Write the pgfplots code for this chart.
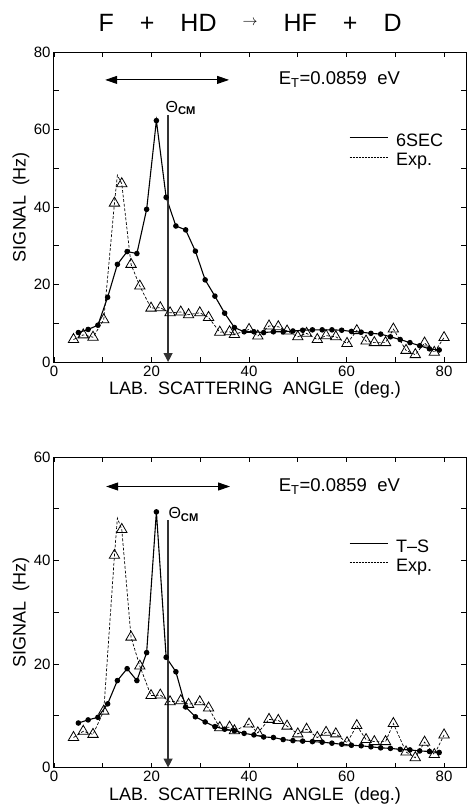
\documentclass[border=0pt]{standalone}
\usepackage{fontspec}
\setmainfont{Liberation Sans}
\usepackage{graphicx}
\usepackage{pgfplots}
\pgfplotsset{compat=1.18}
\usepackage{pgfplotstable}
\usetikzlibrary{arrows.meta}

% 6SEC calculation (top panel)
\pgfplotstableread{
x y
5 7.6
7 8.4
9 9.5
11 16.7
13 25.2
15 28.5
17 28.0
19 39.4
21 62.3
23 42.5
25 35.1
27 34.1
29 28.6
31 21.2
33 17.0
35 12.6
37 8.9
39 7.8
41 7.8
43 7.6
45 7.8
47 7.8
49 8.0
51 8.2
53 8.3
55 8.3
57 8.3
59 8.2
61 7.9
63 7.7
65 7.4
67 7.2
69 6.5
71 5.8
73 5.0
75 4.2
77 3.4
79 3.1
}\sixsec

% T-S calculation (bottom panel)
\pgfplotstableread{
x y
5 8.6
7 9.2
9 9.7
11 12.3
13 16.8
15 19.1
17 16.8
19 22.2
21 49.4
23 21.3
25 18.5
27 11.7
29 9.8
31 8.8
33 7.9
35 7.4
37 7.1
39 6.6
41 6.3
43 5.9
45 5.8
47 5.4
49 5.2
51 5.1
53 5.0
55 4.9
57 4.7
59 4.5
61 4.3
63 4.2
65 4.0
67 3.8
69 3.7
71 3.5
73 3.4
75 3.2
77 3.1
79 2.9
}\tsdata

% experimental points
\pgfplotstableread{
x y
4.0 5.8
6.0 7.0
8.0 6.4
10.2 10.9
12.4 41.0
13.9 46.0
15.8 25.2
17.6 19.6
19.9 13.9
21.8 14.0
23.8 12.7
26.0 12.9
27.6 12.2
29.9 12.7
31.7 11.5
34.0 7.7
36.0 7.8
37.0 7.1
40.0 8.4
41.8 6.7
44.1 9.3
46.0 9.1
47.8 8.0
50.0 6.5
51.8 7.4
54.0 5.8
55.8 6.8
57.8 6.5
60.1 4.8
62.1 8.1
64.0 5.4
65.7 5.0
68.0 5.0
69.6 8.5
72.2 3.0
74.1 1.9
76.0 4.9
78.0 2.5
80.0 6.3
}\expdata

% dashed curve through the experiment (overshoots at the peak)
\pgfplotstableread{
x y
4.0 5.8
6.0 7.0
8.0 6.4
10.2 10.9
12.4 41.0
13.0 48.2
13.9 46.0
15.8 25.2
17.6 19.6
19.9 13.9
21.8 14.0
23.8 12.7
26.0 12.9
27.6 12.2
29.9 12.7
31.7 11.5
34.0 7.7
36.0 7.8
37.0 7.1
40.0 8.4
41.8 6.7
44.1 9.3
46.0 9.1
47.8 8.0
50.0 6.5
51.8 7.4
54.0 5.8
55.8 6.8
57.8 6.5
60.1 4.8
62.1 8.1
64.0 5.4
65.7 5.0
68.0 5.0
69.6 8.5
72.2 3.0
74.1 1.9
76.0 4.9
78.0 2.5
80.0 6.3
}\expline

\pgfplotsset{
  panel/.style={
    scale only axis, width=412pt, anchor=south west,
    xmin=0, xmax=84.5,
    xtick={0,20,...,80}, minor xtick={10,30,50,70},
    tick align=inside, major tick length=5pt, minor tick length=5pt,
    tick style={black, line width=0.8pt},
    axis line style={line width=1pt},
    tick label style={font=\fontsize{15}{15}\selectfont},
    /pgf/number format/assume math mode=true,
    xlabel={LAB.\ \ SCATTERING\ \ ANGLE\ \ (deg.)},
    ylabel={SIGNAL\ \ (Hz)},
    label style={font=\fontsize{18}{18}\selectfont},
    xlabel style={at={(axis description cs:0.488,0)}, anchor=center, yshift=-28pt},
    ylabel style={at={(axis description cs:-0.08,0.5)}, anchor=center},
    legend style={draw=none, fill=none, inner sep=0pt,
      at={(0.716,0.733)}, anchor=north west, row sep=3pt,
      nodes={inner sep=0pt, text height=12pt, text depth=4pt,
        font=\fontsize{18}{18}\selectfont}},
    legend cell align=left,
    legend image code/.code={\draw[#1] (0pt,5pt) -- (38pt,5pt); \path (46pt,5pt);},
  },
  expline/.style={black, line width=0.7pt, dash pattern=on 2.8pt off 1.8pt, forget plot},
  expmarks/.style={only marks, mark=triangle, mark size=6pt,
    mark options={black, solid, line width=0.8pt}, forget plot},
  theory/.style={black, line width=1.1pt, mark=*, mark size=2.2pt, forget plot},
}

\newcommand{\tgap}{\hspace{26pt}}

\begin{document}
\begin{tikzpicture}
\begin{axis}[panel, at={(54pt,-362pt)}, height=310pt,
  ymin=0, ymax=80, ytick={0,20,...,80}, minor ytick={10,30,50,70},
  title={F\tgap+\tgap HD\tgap\raisebox{5.5pt}{\resizebox{15pt}{!}{$\rightarrow$}}\tgap HF\tgap+\tgap D},
  title style={font=\fontsize{25}{25}\selectfont, at={(axis description cs:0.476,1)}, anchor=base, yshift=15pt}]
\addplot[expline] table {\expline};
\addplot[expmarks] table {\expdata};
\addplot[theory] table {\sixsec};
\addlegendimage{black, line width=1pt}
\addlegendentry{6SEC}
\addlegendimage{black, line width=0.7pt, dash pattern=on 2pt off 1pt}
\addlegendentry{Exp.}
\draw[line width=1pt, {Triangle[length=12pt,width=8pt]}-{Triangle[length=12pt,width=8pt]}]
  (axis cs:10.5,72.8) -- (axis cs:35.9,72.8);
\draw[line width=1.2pt, black!80, -{Triangle[length=9pt,width=9pt]}]
  (axis cs:23.4,63.7) -- (axis cs:23.4,0);
\node[anchor=center, font=\fontsize{16}{16}\selectfont] at (axis cs:26.0,65.6)
  {Θ\textsubscript{\bfseries CM}};
\node[anchor=west, font=\fontsize{18.5}{18.5}\selectfont] at (axis cs:45.4,72.8)
  {E\textsubscript{T}=0.0859\ \ eV};
\end{axis}

\begin{axis}[panel, at={(54pt,-767.5pt)}, height=310.5pt,
  ymin=0, ymax=60, ytick={0,20,...,60}, minor ytick={10,30,50}]
\addplot[expline] table {\expline};
\addplot[expmarks] table {\expdata};
\addplot[theory] table {\tsdata};
\addlegendimage{black, line width=1pt}
\addlegendentry{T--S}
\addlegendimage{black, line width=0.7pt, dash pattern=on 2pt off 1pt}
\addlegendentry{Exp.}
\draw[line width=1pt, {Triangle[length=12pt,width=8pt]}-{Triangle[length=12pt,width=8pt]}]
  (axis cs:10.7,54.3) -- (axis cs:36.1,54.3);
\draw[line width=1.2pt, black!80, -{Triangle[length=9pt,width=9pt]}]
  (axis cs:23.4,47.8) -- (axis cs:23.4,0);
\node[anchor=center, font=\fontsize{16}{16}\selectfont] at (axis cs:26.6,48.9)
  {Θ\textsubscript{\bfseries CM}};
\node[anchor=west, font=\fontsize{18.5}{18.5}\selectfont] at (axis cs:45.4,54.3)
  {E\textsubscript{T}=0.0859\ \ eV};
\end{axis}
\pgfresetboundingbox
\path[use as bounding box] (0pt,0pt) rectangle (467pt,-806pt);
\end{tikzpicture}
\end{document}
